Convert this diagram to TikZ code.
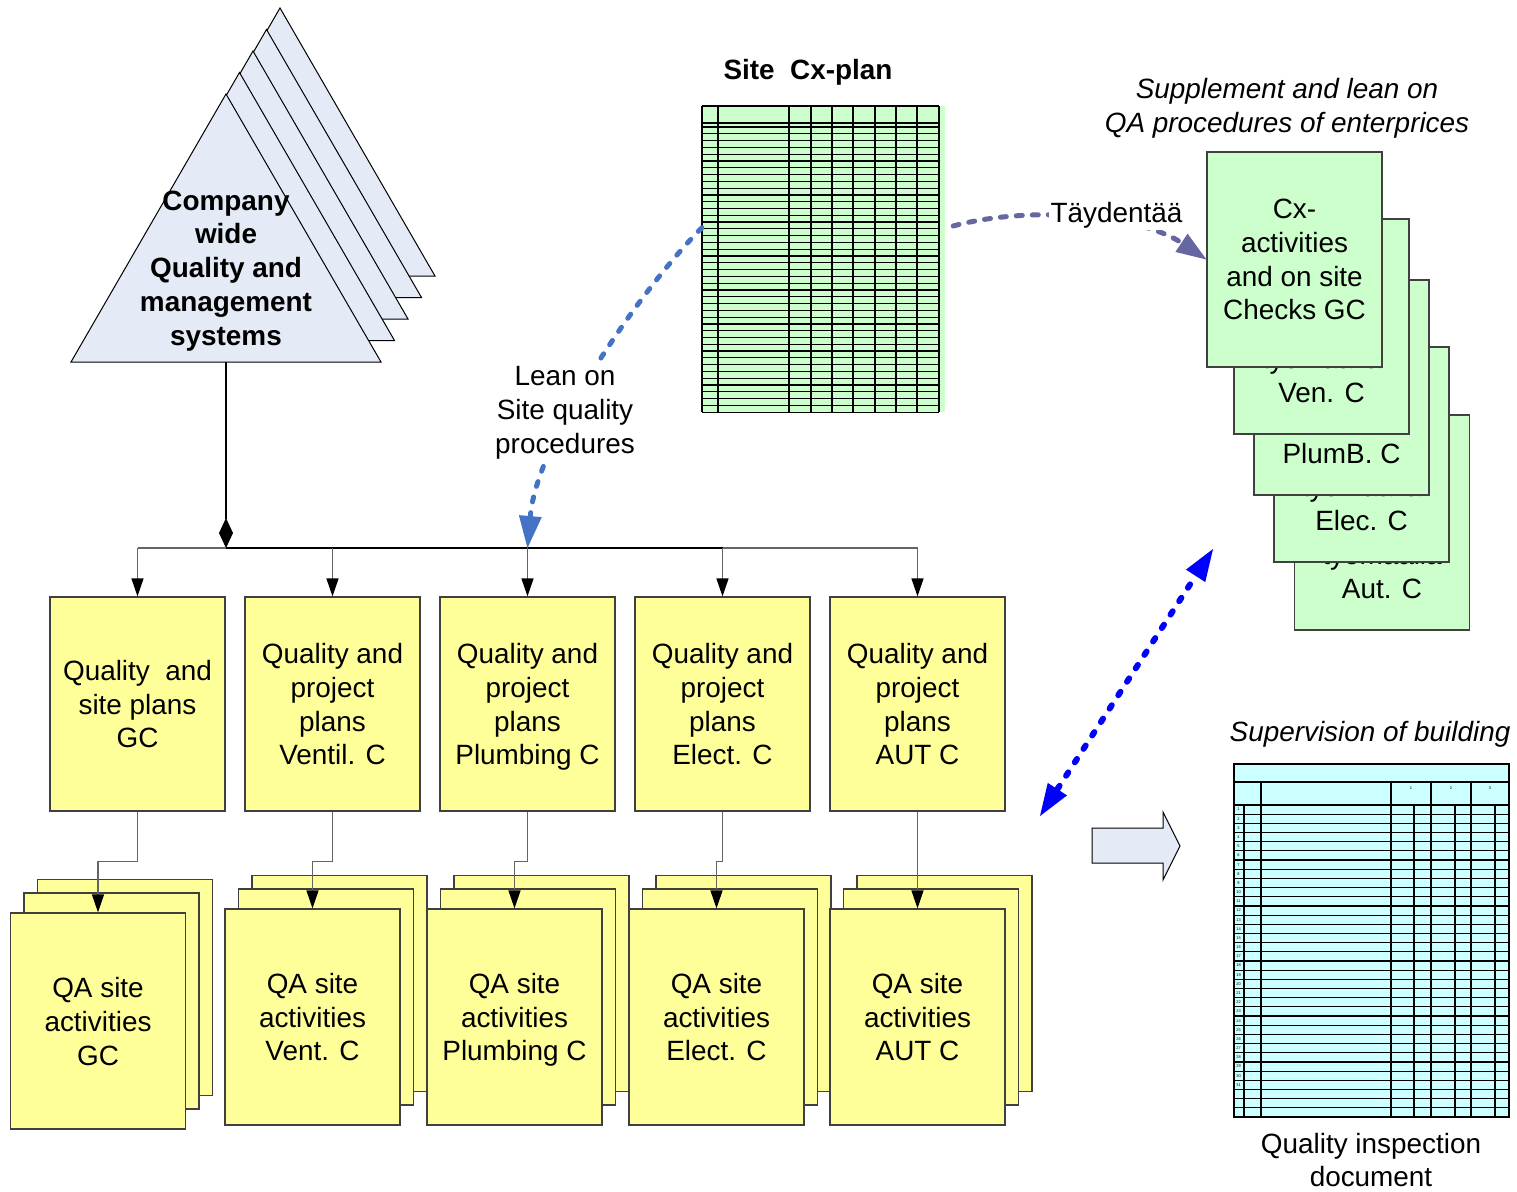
\documentclass[tikz,border=0pt]{standalone}
\usepackage{fontspec}
\setmainfont{Liberation Sans}
\usetikzlibrary{arrows.meta}
\definecolor{paleyellow}{RGB}{255,255,153}
\definecolor{palegreen}{RGB}{204,255,204}
\definecolor{palecyan}{RGB}{204,255,255}
\definecolor{paleblue}{RGB}{228,234,246}
\definecolor{leanblue}{RGB}{68,114,196}
\definecolor{suppgray}{RGB}{102,102,160}
\definecolor{boxline}{RGB}{64,64,64}
\definecolor{linkgray}{RGB}{100,100,100}
\begin{document}
\begin{tikzpicture}[x=1bp,y=-1bp,
  font=\fontsize{28}{34}\selectfont,
  plan/.style={draw=boxline,fill=paleyellow,line width=1.2bp,minimum width=175bp,minimum height=214bp,inner sep=0pt,text depth=0pt,align=center},
  qabox/.style={plan,minimum height=216bp},
  cxbox/.style={draw=boxline,fill=palegreen,line width=1.2bp,minimum width=175bp,minimum height=215bp,inner sep=0pt,align=center},
  tri/.style={draw=black,fill=paleblue,line width=1bp},
  boldtxt/.style={font=\fontsize{28}{34}\selectfont\bfseries,align=center},
  ittxt/.style={font=\fontsize{28}{34}\selectfont\itshape,align=center},
  tinytxt/.style={font=\fontsize{4}{4}\selectfont,inner sep=0pt},
  gridline/.style={line width=1.2bp},
  link/.style={draw=linkgray,line width=1.2bp,-{Triangle[length=18bp,width=12bp,color=black]}},
  leanarrow/.style={color=leanblue,line width=5bp,line cap=round,dash pattern=on 5bp off 11bp,-{Triangle[length=32bp,width=23bp,line width=0pt]}},
  supparrow/.style={color=suppgray,line width=5bp,line cap=round,dash pattern=on 6bp off 10bp,-{Triangle[length=30bp,width=22bp,line width=0pt]}},
  supervise/.style={color=blue,line width=6bp,line cap=round,dash pattern=on 4bp off 12bp,{Triangle[length=32bp,width=23bp,line width=0pt]}-{Triangle[length=32bp,width=23bp,line width=0pt]}}]
\useasboundingbox (0,0) rectangle (1517,1191);
% triangulos
\foreach \k in {4,3,2,1,0}
  \draw[tri] (71+13.5*\k,362-21.5*\k) -- (226+13.5*\k,94-21.5*\k) -- (381+13.5*\k,362-21.5*\k) -- cycle;
\node[boldtxt] (company) at (226,271) {Company\\wide\\Quality and\\management\\systems};
\coordinate (tribase) at (226,362);
\coordinate (junction) at (226,548);
% planes
\node[plan] (p1) at (137.5,704) {Quality\ \ and\\site plans\\GC};
\foreach \i/\x/\txt in {2/332.5/Ventil. C,3/527.5/Plumbing C,4/722.5/Elect. C,5/917.5/AUT C}
  \node[plan] (p\i) at (\x,704) {Quality and\\project\\plans\\\txt};
\draw[line width=1.2bp,-{Kite[length=30bp,width=14bp,inset=15bp]}] (tribase) -- (junction);
\draw[linkgray,line width=1.2bp] (p1.north |- junction) -- (p5.north |- junction);
\draw[line width=2.5bp] (junction) -- (p4.north |- junction);
\foreach \i in {1,...,5}
  \draw[link] (p\i.north |- junction) -- (p\i.north);
% QA
\foreach \i/\x/\y/\txt in {1/98/1021/GC,2/312.5/1017/Vent. C,3/514.5/1017/Plumbing C,4/716.5/1017/Elect. C,5/917.5/1017/AUT C} {
  \node[qabox] (qa\i c) at (\x+27,\y-33.5) {};
  \node[qabox] (qa\i b) at (\x+13.5,\y-20) {};
  \node[qabox] (qa\i) at (\x,\y) {QA site\\activities\\\txt};
}
\foreach \i in {1,...,5}
  \draw[link] (p\i.south) -- ++(0,50) -| (qa\i.north);
% Cx-plan
\node[boldtxt] (cxtitle) at (808,72) {Site\ \ Cx-plan};
\node[fill=palegreen,minimum width=243bp,minimum height=306bp,inner sep=0pt] (cxplan) at (823.5,259) {};
\foreach \x in {702,718,789,811,832,853,875,896,917,939}
  \draw[gridline] (\x,106) -- (\x,412);
\draw[gridline] (702,106) -- (939,106) (702,123) -- (939,123);
\foreach \k in {0,...,42}
  \draw[gridline] (702,{127+\k*6.79}) -- (939,{127+\k*6.79});
\coordinate (bus3) at (p3.north |- junction);
\draw[leanarrow] (cxplan.north west) ++(0,122) .. controls (640,290) and (537,440) .. (bus3);
\node[fill=white,inner sep=5bp,align=center] (leanon) at (565,413) {Lean on\\Site quality\\procedures};
% tarjetas verdes
\node[ittxt] (supptxt) at (1287,108) {Supplement and lean on\\QA procedures of enterprices};
\foreach \i/\x/\y/\txt in {5/1382/522.5/Aut. C,4/1361.5/454.5/Elec. C,3/1341.5/387.5/PlumB. C,2/1321.5/326.5/Ven. C}
  \node[cxbox,label={[anchor=south,yshift=28bp,align=center]south:työmaalla\\\txt}] (cx\i) at (\x,\y) {};
\node[cxbox] (cx1) at (1294.5,259.5) {Cx-\\activities\\and on site\\Checks GC};
\draw[supparrow] (cxplan.east) ++(8,-33) .. controls (1030,205) and (1140,215) .. (cx1.west);
\node[fill=white,inner sep=2bp] (tayd) at (1116.5,215) {Täydentää};
% supervision
\coordinate (supA) at (1040,816);
\coordinate (supB) at (1213,549);
\draw[supervise] (supA) -- (supB);
\draw[fill=paleblue,line width=1bp] (1092,828) -- (1163,828) -- (1163,812) -- (1180,846) -- (1163,880) -- (1163,863) -- (1092,863) -- cycle;
\node[ittxt] (supvtxt) at (1370,734) {Supervision of building};
\node[fill=palecyan,draw=black,line width=1.5bp,minimum width=275bp,minimum height=353bp,inner sep=0pt] (qidoc) at (1371.5,940.5) {};
\draw[gridline] (1234,782) -- (1509,782);
\foreach \k in {0,...,33}
  \draw[gridline] (1234,{805+\k*9.176}) -- (1509,{805+\k*9.176});
\foreach \x in {1261,1391,1431,1471}
  \draw[gridline] (\x,782) -- (\x,1117);
\foreach \x in {1244,1414,1455,1495}
  \draw[gridline] (\x,805) -- (\x,1117);
\foreach \n in {1,...,31}
  \node[tinytxt] (rn\n) at (1238.5,{805+(\n-0.5)*9.176}) {\n};
\foreach \n/\x in {1/1411,2/1451,3/1490}
  \node[tinytxt] (hn\n) at (\x,788) {\n};
\node[align=center] (qicap) at (1371,1160) {Quality inspection\\document};
\end{tikzpicture}
\end{document}
